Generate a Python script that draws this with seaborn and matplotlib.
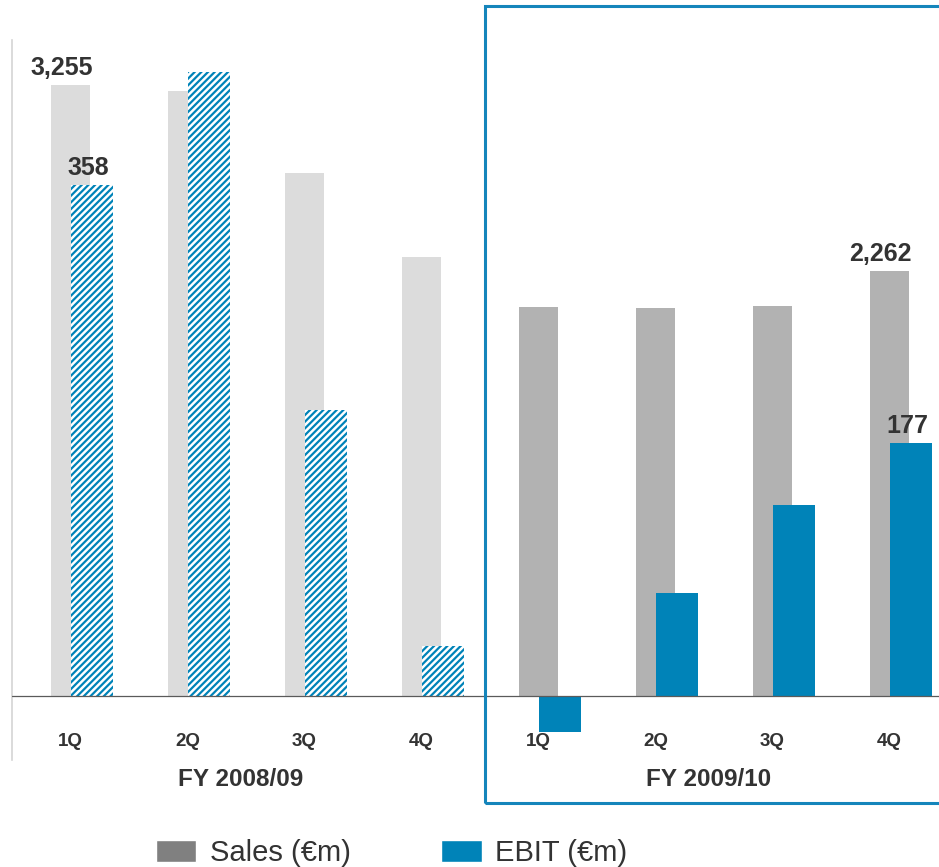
import numpy as np
import pandas as pd
import matplotlib
matplotlib.use("Agg")
import matplotlib.pyplot as plt
import matplotlib.transforms as mtransforms
from matplotlib.patches import Patch, Rectangle
import seaborn as sns

# Quarterly figures, two fiscal years
quarters = ["1Q", "2Q", "3Q", "4Q", "1Q", "2Q", "3Q", "4Q"]
fiscal_years = ["FY 2008/09"] * 4 + ["FY 2009/10"] * 4
sales = [3255, 3221, 2787, 2338, 2071, 2066, 2077, 2262]   # €m
ebit = [358, 437, 200, 35, -25, 72, 134, 177]              # €m
labelled = [0, 7]                                           # quarters carrying value labels

SALES_COLORS = {"FY 2008/09": "#dcdcdc", "FY 2009/10": "#b2b2b2"}
EBIT_BLUE = "#0083b8"
TEXT = "#333333"

pos = np.arange(len(quarters))
df = pd.DataFrame({
    "pos": pos,
    "ebit_pos": pos + 0.182,
    "sales": sales,
    "ebit": ebit,
    "year": fiscal_years,
})

sns.set_style("white")
plt.rcParams["font.family"] = ["Liberation Sans", "DejaVu Sans"]
plt.rcParams["hatch.linewidth"] = 1.6

W, H = 939, 867
fig = plt.figure(figsize=(W / 100, H / 100), dpi=100)
ax = fig.add_axes([12 / W, (H - 760) / H, (W - 12) / W, 720 / H])

sns.barplot(data=df, x="pos", y="sales", hue="year", palette=SALES_COLORS,
            native_scale=True, dodge=False, width=0.333, legend=False,
            saturation=1, errorbar=None, linewidth=0, ax=ax)

ax2 = ax.twinx()
sns.barplot(data=df, x="ebit_pos", y="ebit", hue="year",
            palette={"FY 2008/09": EBIT_BLUE, "FY 2009/10": EBIT_BLUE},
            native_scale=True, dodge=False, width=0.363, legend=False,
            saturation=1, errorbar=None, linewidth=0, ax=ax2)

# previous year's EBIT shown as striped bars
for bar in ax2.patches:
    bar.set_linewidth(0)
    if bar.get_x() + bar.get_width() / 2 < 3.5:
        bar.set_facecolor("white")
        bar.set_edgecolor(EBIT_BLUE)
        bar.set_hatch("/////")
for bar in ax.patches:
    bar.set_linewidth(0)

ax.set_xlim(-0.5, 7.423)
ax.set_ylim(-340.8, 3493)
ax2.set_ylim(-44.8, 459.3)

for a in (ax, ax2):
    a.set_xticks([])
    a.set_yticks([])
    a.set_xlabel("")
    a.set_ylabel("")
    for s in a.spines.values():
        s.set_visible(False)
ax.spines["left"].set_visible(True)
ax.spines["left"].set_color("#d4d4d4")
ax.spines["left"].set_linewidth(1.2)

ax2.axhline(0, color="#5a5a5a", lw=0.9, zorder=5)

# value labels
for i in labelled:
    ax.annotate(f"{sales[i]:,}", xy=(pos[i], sales[i]), xytext=(-9, 10),
                textcoords="offset pixels", ha="center", va="baseline",
                fontsize=18, fontweight="bold", color=TEXT)
    ax2.annotate(f"{ebit[i]:,}", xy=(df["ebit_pos"][i], ebit[i]), xytext=(-3, 10),
                 textcoords="offset pixels", ha="center", va="baseline",
                 fontsize=18, fontweight="bold", color=TEXT)

# quarter and fiscal-year labels
trans = mtransforms.blended_transform_factory(ax.transData, ax.transAxes)
for p, q in zip(pos, quarters):
    ax.text(p, 0.0257, q, transform=trans, ha="center", va="center",
            fontsize=13.5, fontweight="bold", color=TEXT)
for xc, fy in [(1.45, "FY 2008/09"), (5.45, "FY 2009/10")]:
    ax.text(xc, -0.027, fy, transform=trans, ha="center", va="center",
            fontsize=17.5, fontweight="bold", color=TEXT)

# frame around the current fiscal year
fig.add_artist(Rectangle((484.5 / W, (H - 803.3) / H), (941 - 484.5) / W, (803.3 - 5.5) / H,
                         transform=fig.transFigure, fill=False,
                         edgecolor="#1585bb", lw=2.2))

handles = [Patch(facecolor="#808080", label="Sales (€m)"),
           Patch(facecolor=EBIT_BLUE, label="EBIT (€m)")]
fig.legend(handles=handles, loc="center left", bbox_to_anchor=(141 / W, (H - 853) / H),
           ncol=2, frameon=False, fontsize=21, handlelength=1.4, handleheight=0.8,
           handletextpad=0.45, columnspacing=3.1, borderpad=0, labelcolor=TEXT)

fig.savefig("out.png", dpi=100)
